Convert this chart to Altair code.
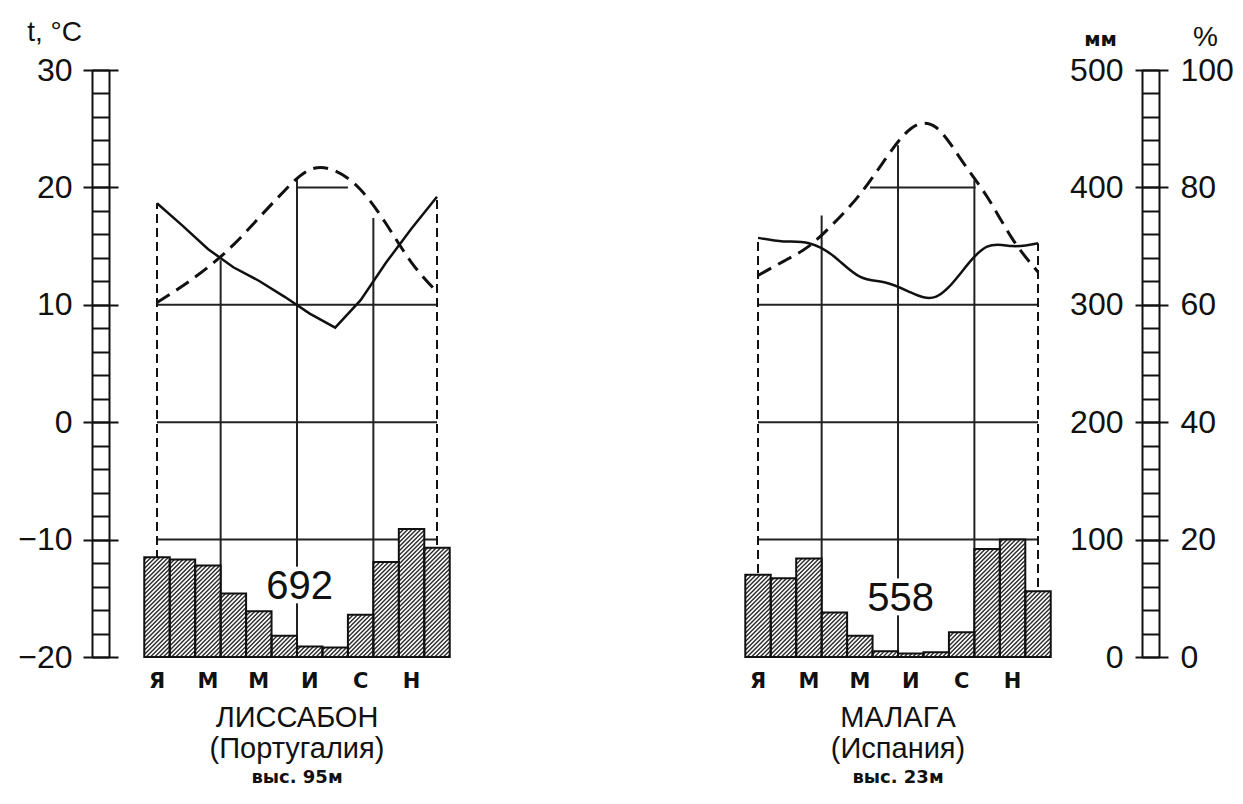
import altair as alt
import pandas as pd

# ---------------- data ----------------
MONTHS = list(range(1, 13))
LETTER_MONTHS = [1, 3, 5, 7, 9, 11]
MONTH_LETTERS = ["Я", "М", "М", "И", "С", "Н"]

STATIONS = ["Lisbon", "Malaga"]
CITY = ["ЛИССАБОН", "МАЛАГА"]
COUNTRY = ["(Португалия)", "(Испания)"]
ALTITUDE = ["выс. 95м", "выс. 23м"]
TOTAL = ["692", "558"]

# mean monthly temperature, °C
LIS_TEMP = [10.2, 11.6, 13.2, 15.1, 17.4, 19.7, 21.5, 21.4, 19.8, 16.9, 13.6, 11.1]
MAL_TEMP = [12.5, 13.7, 15.0, 17.0, 19.4, 22.4, 25.0, 25.1, 22.3, 19.2, 15.6, 12.8]
# relative humidity, %
LIS_HUM = [77.3, 73.5, 69.5, 66.4, 64.1, 61.4, 58.5, 56.1, 60.8, 67.2, 73.0, 78.4]
MAL_HUM = [71.4, 70.8, 70.5, 68.2, 64.8, 63.8, 62.1, 61.4, 65.6, 69.9, 70.0, 70.5]
# precipitation, mm
LIS_PREC = [85, 83, 78, 54, 39, 18, 9, 8, 36, 81, 109, 93]
MAL_PREC = [70, 67, 84, 38, 18, 5, 3, 4, 21, 92, 100, 56]

# grid of the diagram (°C)
HGRID_T = [10, 0, -10]
VGRID_POS = [3.5, 6.5, 9.5]
LIS_VGRID_TOP = [13.8, 20.8, 17.4]
MAL_VGRID_TOP = [17.6, 23.6, 20.6]
LIS_H20 = [6.5, 8.5]
MAL_H20 = [5.4, 9.55]

TEMPS = [LIS_TEMP, MAL_TEMP]
HUMS = [LIS_HUM, MAL_HUM]
PRECS = [LIS_PREC, MAL_PREC]
VTOPS = [LIS_VGRID_TOP, MAL_VGRID_TOP]
H20S = [LIS_H20, MAL_H20]

# ---------------- layout ----------------
PLOT_W, PLOT_H = 1067, 587
X_MIN, X_MAX = -1.5536, 40.364
SHIFT = [0.0, 23.611]
PX_PER_MONTH = PLOT_W / (X_MAX - X_MIN)
PX_PER_MM = PLOT_H / 500.0
HATCH_STEP = 4.3

FONT = "Liberation Sans"
BOLD_FONT = "DejaVu Sans"


def t2mm(t):
    return (t + 20) * 10


def h2mm(h):
    return h * 5


xs = alt.Scale(domain=[X_MIN, X_MAX], nice=False, zero=False)
ys = alt.Scale(domain=[0, 500], nice=False, zero=False)


def X(f="x"):
    return alt.X(f"{f}:Q", scale=xs, axis=None)


def Y(f="y"):
    return alt.Y(f"{f}:Q", scale=ys, axis=None)


# ---------------- tables ----------------
line_rows, bar_rows, hatch_rows, frame_rows = [], [], [], []
hgrid_rows, vgrid_rows = [], []
for i, st in enumerate(STATIONS):
    s = SHIFT[i]
    for m, t, h, p in zip(MONTHS, TEMPS[i], HUMS[i], PRECS[i]):
        line_rows.append({"station": st, "x": m + s, "t": t2mm(t), "h": h2mm(h)})
        bar_rows.append({"station": st, "x": m - 0.5 + s, "x2": m + 0.5 + s, "y": 0, "y2": p})
        # diagonal hatching clipped to the bar
        w = PX_PER_MONTH
        hp = p * PX_PER_MM
        c = -w + HATCH_STEP / 2
        while c < hp:
            u0 = max(0.0, -c)
            u1 = min(w, hp - c)
            if u1 > u0:
                hatch_rows.append({
                    "x": m - 0.5 + s + u0 / PX_PER_MONTH,
                    "x2": m - 0.5 + s + u1 / PX_PER_MONTH,
                    "y": (u0 + c) / PX_PER_MM,
                    "y2": (u1 + c) / PX_PER_MM,
                })
            c += HATCH_STEP
    for m in (1, 12):
        top = max(t2mm(TEMPS[i][m - 1]), h2mm(HUMS[i][m - 1]))
        frame_rows.append({"x": m + s, "y": 0, "y2": top})
    for t in HGRID_T:
        hgrid_rows.append({"x": 1 + s, "x2": 12 + s, "y": t2mm(t)})
    hgrid_rows.append({"x": H20S[i][0] + s, "x2": H20S[i][1] + s, "y": t2mm(20)})
    for pos, top in zip(VGRID_POS, VTOPS[i]):
        vgrid_rows.append({"x": pos + s, "y": 0, "y2": t2mm(top)})

lines = pd.DataFrame(line_rows)
bars = pd.DataFrame(bar_rows)
hatch = pd.DataFrame(hatch_rows)
frames = pd.DataFrame(frame_rows)
hgrid = pd.DataFrame(hgrid_rows)
vgrid = pd.DataFrame(vgrid_rows)

months_df = pd.DataFrame([
    {"x": m + SHIFT[i], "label": lab}
    for i in range(2) for m, lab in zip(LETTER_MONTHS, MONTH_LETTERS)
])
names_df = pd.DataFrame({
    "x": [6.5 + s for s in SHIFT],
    "city": CITY, "country": COUNTRY, "alt": ALTITUDE,
})
totals_df = pd.DataFrame({"x": [6.6 + s for s in SHIFT], "y": [59.6, 49.4], "label": TOTAL})

# ---------------- layers ----------------
INK = "#111111"

grid_h = alt.Chart(hgrid).mark_rule(color="#222222", strokeWidth=2).encode(
    x=X(), x2="x2:Q", y=Y())
grid_v = alt.Chart(vgrid).mark_rule(color="#222222", strokeWidth=2).encode(
    x=X(), y=Y(), y2="y2:Q")
frame = alt.Chart(frames).mark_rule(color=INK, strokeWidth=2, strokeDash=[9, 5]).encode(
    x=X(), y=Y(), y2="y2:Q")

bar_fill = alt.Chart(bars).mark_rect(fill="white").encode(
    x=X(), x2="x2:Q", y=Y(), y2="y2:Q")
hatch_l = alt.Chart(hatch).mark_rule(color="#2a2a2a", strokeWidth=1.4).encode(
    x=X(), x2="x2:Q", y=Y(), y2="y2:Q")
bar_edge = alt.Chart(bars).mark_rect(fill="transparent", stroke=INK, strokeWidth=2).encode(
    x=X(), x2="x2:Q", y=Y(), y2="y2:Q")

temp_l = alt.Chart(lines).mark_line(
    interpolate="natural", color=INK, strokeWidth=3, strokeDash=[15, 8]
).encode(x=X(), y=Y("t"), detail="station:N")

hum_lis = alt.Chart(lines).transform_filter(alt.datum.station == "Lisbon").mark_line(
    interpolate="linear", color=INK, strokeWidth=2.5
).encode(x=X(), y=Y("h"))
hum_mal = alt.Chart(lines).transform_filter(alt.datum.station == "Malaga").mark_line(
    interpolate="natural", color=INK, strokeWidth=2.5
).encode(x=X(), y=Y("h"))

tot_halo = alt.Chart(totals_df).mark_text(
    font=FONT, fontSize=40, color="white", stroke="white", strokeWidth=9,
    strokeJoin="round", baseline="middle", align="center"
).encode(x=X(), y=Y(), text="label:N")
tot_text = alt.Chart(totals_df).mark_text(
    font=FONT, fontSize=40, color=INK, baseline="middle", align="center"
).encode(x=X(), y=Y(), text="label:N")

month_text = alt.Chart(months_df).mark_text(
    font=BOLD_FONT, fontSize=21, fontWeight="bold", color=INK, baseline="middle", align="center"
).encode(x=X(), y=alt.value(PLOT_H + 25), text="label:N")
city_text = alt.Chart(names_df).mark_text(
    font=FONT, fontSize=29, color=INK, baseline="middle", align="center"
).encode(x=X(), y=alt.value(PLOT_H + 61), text="city:N")
country_text = alt.Chart(names_df).mark_text(
    font=FONT, fontSize=29, color=INK, baseline="middle", align="center"
).encode(x=X(), y=alt.value(PLOT_H + 92), text="country:N")
alt_text = alt.Chart(names_df).mark_text(
    font=BOLD_FONT, fontSize=18, fontWeight="bold", color=INK, baseline="middle", align="center"
).encode(x=X(), y=alt.value(PLOT_H + 121), text="alt:N")

# ---------------- ladder axes ----------------
MAJOR = [0, 100, 200, 300, 400, 500]
RUNGS = list(range(0, 501, 20))
dummy = pd.DataFrame({"y": [0, 500]})


def axis_layer(**kw):
    base = dict(grid=False, domainColor=INK, domainWidth=2, tickColor=INK, tickWidth=2,
                labelColor=INK, labelFont=FONT, labelFontSize=32, labelOverlap=False,
                labelFlush=False, titleColor=INK, titleFont=FONT, titleAngle=0,
                titleAlign="center", titleBaseline="middle", titleFontWeight="normal")
    base.update(kw)
    return alt.Chart(dummy).mark_point(opacity=0).encode(
        y=alt.Y("y:Q", scale=ys, axis=alt.Axis(**base)))


ax_l_outer = axis_layer(orient="left", offset=0, ticks=False, labels=False, title=None)
ax_l_inner = axis_layer(orient="left", offset=-17, values=RUNGS, tickSize=17,
                        labels=False, title=None)
ax_l_major = axis_layer(orient="left", offset=-26, domain=False, values=MAJOR, tickSize=35,
                        labelPadding=11, labelExpr="format(datum.value / 10 - 20, 'd')",
                        title="t, °C", titleFontSize=28, titleX=-64, titleY=-38)
ax_r_outer = axis_layer(orient="right", offset=0, ticks=False, labels=False, title=None)
ax_r_inner = axis_layer(orient="right", offset=-17, values=RUNGS, tickSize=17,
                        labels=False, title=None)
ax_r_major = axis_layer(orient="right", offset=-24, domain=False, values=MAJOR, tickSize=33,
                        labelPadding=12, labelExpr="format(datum.value / 5, 'd')",
                        title="%", titleFontSize=28, titleX=70, titleY=-33)
ax_r_mm = axis_layer(orient="left", offset=-(PLOT_W - 24), domain=False, ticks=False,
                     values=MAJOR, labelPadding=12, labelExpr="format(datum.value, 'd')",
                     title="мм", titleFont=BOLD_FONT, titleFontWeight="bold",
                     titleFontSize=20, titleX=-35, titleY=-31)

chart = alt.layer(
    grid_h, grid_v, frame, bar_fill, hatch_l, bar_edge, temp_l, hum_lis, hum_mal,
    tot_halo, tot_text, month_text, city_text, country_text, alt_text,
    ax_l_outer, ax_l_inner, ax_l_major, ax_r_outer, ax_r_inner, ax_r_major, ax_r_mm,
).resolve_axis(y="independent").properties(
    width=PLOT_W, height=PLOT_H, autosize="none",
    padding={"left": 84, "top": 62, "right": 76, "bottom": 134},
    background="white",
).configure_view(stroke=None)

chart.save("out.html", embed_options={"renderer": "svg", "actions": False})
